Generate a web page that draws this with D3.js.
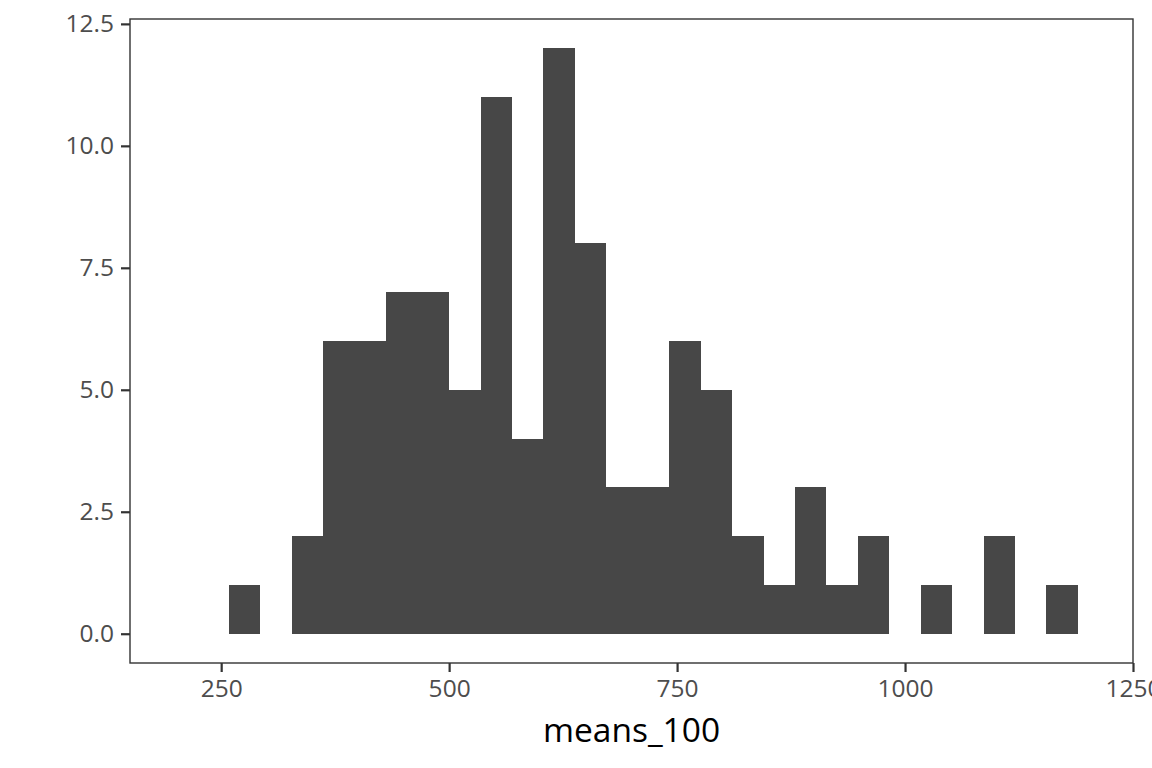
<!DOCTYPE html>
<html>
<head>
<meta charset="utf-8">
<script src="https://cdn.jsdelivr.net/npm/d3@7"></script>
<style>
  html, body { margin: 0; padding: 0; background: #fff; }
  svg { display: block; }
</style>
</head>
<body>
<svg id="chart" width="1152" height="768"></svg>
<script>
// Histogram bins (lower edges), bin width and counts
const binLower = [258.6, 293.1, 327.6, 362.0, 396.5, 431.0, 465.5, 500.0, 534.4,
                  568.9, 603.4, 637.9, 672.4, 706.8, 741.3, 775.8, 810.3, 844.8,
                  879.2, 913.7, 948.2, 982.7, 1017.2, 1051.6, 1086.1, 1120.6, 1155.1];
const binWidth = 34.48;
const counts = [1, 0, 2, 6, 6, 7, 7, 5, 11, 4, 12, 8, 3, 3, 6, 5, 2, 1, 3, 1, 2, 0, 1, 0, 2, 0, 1];
const xTicks = [250, 500, 750, 1000, 1250];
const yTicks = [0, 2.5, 5, 7.5, 10, 12.5];
const xTitle = "means_100";

const svg = d3.select("#chart");
const panel = { left: 130, right: 1133, top: 19, bottom: 663 };

const x = d3.scaleLinear().domain([150, 1250]).range([panel.left, panel.right]);
const y = d3.scaleLinear().domain([-0.6, 12.6]).range([panel.bottom, panel.top]);

const bins = binLower.map((lo, i) => ({ x0: lo, x1: lo + binWidth, n: counts[i] }));

// bars
svg.append("g")
  .selectAll("rect")
  .data(bins.filter(d => d.n > 0))
  .join("rect")
  .attr("x", d => x(d.x0))
  .attr("width", d => x(d.x1) - x(d.x0))
  .attr("y", d => y(d.n))
  .attr("height", d => y(0) - y(d.n))
  .attr("fill", "#474747")
  .attr("shape-rendering", "crispEdges");

// panel border
svg.append("rect")
  .attr("x", panel.left)
  .attr("y", panel.top)
  .attr("width", panel.right - panel.left)
  .attr("height", panel.bottom - panel.top)
  .attr("fill", "none")
  .attr("stroke", "#333333")
  .attr("stroke-width", 1.4);

const font = "'Open Sans', 'Noto Sans', sans-serif";

// y axis
const yAxis = svg.append("g")
  .attr("transform", `translate(${panel.left},0)`)
  .call(d3.axisLeft(y).tickValues(yTicks).tickFormat(d3.format(".1f"))
    .tickSizeInner(9).tickSizeOuter(0).tickPadding(7));
yAxis.select(".domain").remove();
yAxis.selectAll(".tick line").attr("stroke", "#333333").attr("stroke-width", 2.2);
yAxis.selectAll(".tick text")
  .attr("fill", "#4d4d4d")
  .style("font-family", font)
  .style("font-size", "24.5px");

// x axis
const xAxis = svg.append("g")
  .attr("transform", `translate(0,${panel.bottom})`)
  .call(d3.axisBottom(x).tickValues(xTicks).tickFormat(d3.format("d"))
    .tickSizeInner(9).tickSizeOuter(0).tickPadding(8));
xAxis.select(".domain").remove();
xAxis.selectAll(".tick line").attr("stroke", "#333333").attr("stroke-width", 2.2);
xAxis.selectAll(".tick text")
  .attr("fill", "#4d4d4d")
  .style("font-family", font)
  .style("font-size", "24.5px");

// x title
svg.append("text")
  .attr("x", (panel.left + panel.right) / 2)
  .attr("y", 742)
  .attr("text-anchor", "middle")
  .attr("fill", "#000")
  .style("font-family", font)
  .style("font-size", "33.5px")
  .text(xTitle);
</script>
</body>
</html>
